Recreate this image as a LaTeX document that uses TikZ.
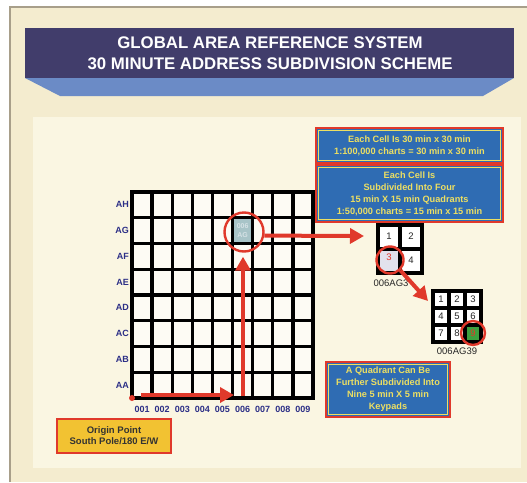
\documentclass[tikz,border=0pt]{standalone}
\usepackage{fontspec}
\setmainfont{Liberation Sans}
\usetikzlibrary{arrows.meta}

\definecolor{panelout}{HTML}{F4ECCF}
\definecolor{panelin}{HTML}{FAF6E2}
\definecolor{frameline}{HTML}{A89F8A}
\definecolor{titlenavy}{HTML}{413D6B}
\definecolor{titleblue}{HTML}{6B8BC6}
\definecolor{boxblue}{HTML}{2F6CB3}
\definecolor{garsred}{HTML}{E0392B}
\definecolor{boxyellow}{HTML}{EDDF62}
\definecolor{originfill}{HTML}{F2C232}
\definecolor{labelnavy}{HTML}{2B2E86}
\definecolor{cellblue}{HTML}{A8C4C8}
\definecolor{celltext}{HTML}{D6E2E6}
\definecolor{quadgray}{HTML}{E2E2EC}
\definecolor{keygreen}{HTML}{3D9F3E}

\tikzset{
  gridline/.style={line width=3.4pt, black, line cap=rect},
  subgridline/.style={line width=3.4pt, black, line cap=rect},
  axislabel/.style={font=\bfseries\fontsize{9}{9}\selectfont, text=labelnavy, inner sep=0pt},
  digit/.style={font=\fontsize{9.5}{10}\selectfont, text=black!85, inner sep=0pt},
  redarrow/.style={draw=garsred, line width=4pt, -{Triangle[length=14pt,width=15pt]}},
  ring/.style={circle, draw=garsred, line width=2.4pt, inner sep=0pt},
  infobox/.style={draw=garsred, line width=2.6pt, fill=boxblue, align=center, inner sep=0pt,
    text=boxyellow, font=\bfseries\fontsize{9.2}{12}\selectfont,
    path picture={\draw[boxyellow, line width=0.9pt]
      ([shift={(2.3pt,-2.3pt)}]path picture bounding box.north west) rectangle
      ([shift={(-2.3pt,2.3pt)}]path picture bounding box.south east);}},
  originbox/.style={draw=garsred, line width=2.6pt, fill=originfill, align=center, inner sep=0pt,
    text=black!80, font=\bfseries\fontsize{9.5}{11}\selectfont},
}

\begin{document}
\begin{tikzpicture}[x=1pt, y=-1pt]
		%%%%% START %%%%%
		\useasboundingbox (0,0) rectangle (527,482);
		
		% panels
		\fill[panelout] (10,7) rectangle (527,482);
		\draw[frameline, line width=1.2pt] (10,482) -- (10,7) -- (527,7);
		\fill[panelin] (33,117) rectangle (521,468);
		
		% title banner
		\fill[titleblue] (25,78) -- (514,78) -- (483,96) -- (60,96) -- cycle;
		\fill[titlenavy] (25,28) rectangle (514,78);
		\node[text=white, align=center, font=\bfseries\fontsize{16.8}{21}\selectfont] (title) at (270,53)
			{GLOBAL AREA REFERENCE SYSTEM\\30 MINUTE ADDRESS SUBDIVISION SCHEME};
		
		% 30 minute grid
		\fill[white!60!panelin] (132,192) rectangle (313,398);
		\fill[cellblue] (232.55,217.75) rectangle (252.66,243.5);
		\foreach \i in {0,...,9}
			\draw[gridline] ({132+\i*20.11},192) -- ({132+\i*20.11},398);
		\foreach \j in {0,...,8}
			\draw[gridline] (132,{192+\j*25.75}) -- (313,{192+\j*25.75});
		\node[align=center, text=celltext, font=\bfseries\fontsize{7}{8.5}\selectfont, inner sep=0pt] (cellAG) at (242.6,230.6) {006\\AG};
		
		\foreach \lab [count=\j] in {AH,AG,AF,AE,AD,AC,AB,AA}
			\node[axislabel, anchor=east] (row\lab) at (129,{192+(\j-0.5)*25.75}) {\lab};
		\foreach \lab [count=\i] in {001,002,003,004,005,006,007,008,009}
			\node[axislabel] (col\lab) at ({132+(\i-0.5)*20.11},409) {\lab};
		
		% path to the cell
		\coordinate (origin) at (132,398);
		\coordinate (eastTail) at (141,395);
		\coordinate (eastTip) at (234,395);
		\coordinate (northTail) at (243,396);
		\node[ring, minimum size=39pt] (ringAG) at (244,232) {};
		\draw[redarrow] (eastTail) -- (eastTip);
		\draw[redarrow] (northTail) -- ([yshift=-4pt]ringAG.south -| northTail);
		\fill[garsred] (origin) circle[radius=3pt];
		
		% quadrants
		\fill[white] (378,225) rectangle (422,273);
		\fill[quadgray] (378,249) rectangle (400,273);
		\foreach \i in {0,1,2}
			\draw[subgridline] ({378+\i*22},225) -- ({378+\i*22},273);
		\foreach \j in {0,1,2}
			\draw[subgridline] (378,{225+\j*24}) -- (422,{225+\j*24});
		\node[digit] (quad1) at (389,236) {1};
		\node[digit] (quad2) at (411,236) {2};
		\node[digit, text=garsred] (quad3) at (389,257) {3};
		\node[digit] (quad4) at (411,260) {4};
		\node[ring, minimum size=27pt] (ring3) at (390,260) {};
		\node[digit] (quadLabel) at (391,283) {006AG3};
		\coordinate (quadTip) at (364,236);
		\draw[redarrow] (ringAG.-10) -- (quadTip);
		
		% keypads
		\fill[white] (433,291) rectangle (481,342);
		\fill[keygreen] (465,325) rectangle (481,342);
		\foreach \i in {0,...,3}
			\draw[subgridline] ({433+\i*16},291) -- ({433+\i*16},342);
		\foreach \j in {0,...,3}
			\draw[subgridline] (433,{291+\j*17}) -- (481,{291+\j*17});
		\foreach \n in {1,...,8}
			\node[digit] (key\n) at ({441+mod(\n-1,3)*16},{299.5+div(\n-1,3)*17}) {\n};
		\node[digit, text=garsred] (key9) at (473,333.5) {9};
		\node[ring, minimum size=24pt] (ring9) at (473,333) {};
		\node[digit] (keyLabel) at (457,351) {006AG39};
		\coordinate (keyTip) at (428,301);
		\draw[redarrow] (ring3.-45) -- (keyTip);
		
		% notes
		\node[infobox, minimum width=187pt, minimum height=35pt] (noteCell) at (409.5,145.5)
			{Each Cell Is 30 min x 30 min\\1:100,000 charts = 30 min x 30 min};
		\node[infobox, minimum width=187pt, minimum height=57pt] (noteQuad) at (409.5,193.5)
			{Each Cell Is\\Subdivided Into Four\\15 min X 15 min Quadrants\\1:50,000 charts = 15 min x 15 min};
		\node[infobox, minimum width=124pt, minimum height=55pt] (noteKeypad) at (388,389.5)
			{A Quadrant Can Be\\Further Subdivided Into\\Nine 5 min X 5 min\\Keypads};
		\node[originbox, minimum width=114pt, minimum height=34pt] (noteOrigin) at (114,436)
			{Origin Point\\South Pole/180 E/W};
		
		%%%%% END %%%%%
\end{tikzpicture}
\end{document}
